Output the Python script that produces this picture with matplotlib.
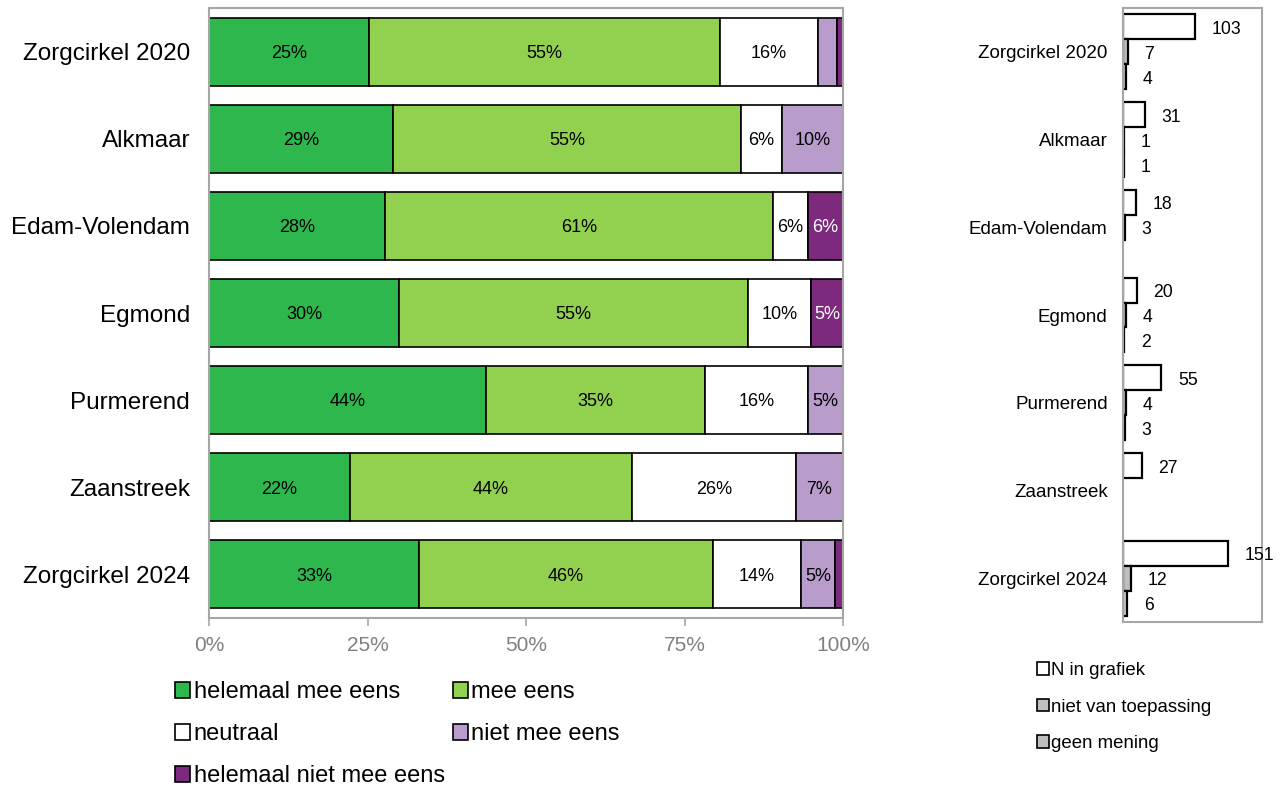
import numpy as np
import matplotlib
matplotlib.use('Agg')
import matplotlib.pyplot as plt
from matplotlib.patches import Patch

plt.rcParams['font.family'] = ['Liberation Sans', 'DejaVu Sans']

# data
categories = ['Zorgcirkel 2020', 'Alkmaar', 'Edam-Volendam', 'Egmond',
              'Purmerend', 'Zaanstreek', 'Zorgcirkel 2024']
helemaal_mee_eens = [25.24, 29.03, 27.78, 30.00, 43.64, 22.22, 33.11]
mee_eens = [55.34, 54.84, 61.11, 55.00, 34.55, 44.44, 46.36]
neutraal = [15.53, 6.45, 5.56, 10.00, 16.36, 25.93, 13.91]
niet_mee_eens = [2.91, 9.68, 0, 0, 5.45, 7.41, 5.30]
helemaal_niet_mee_eens = [0.97, 0, 5.56, 5.00, 0, 0, 1.32]

n_in_grafiek = [103, 31, 18, 20, 55, 27, 151]
niet_van_toepassing = [7, 1, 3, 4, 4, 0, 12]
geen_mening = [4, 1, 0, 2, 3, 0, 6]

series = [helemaal_mee_eens, mee_eens, neutraal, niet_mee_eens, helemaal_niet_mee_eens]
series_names = ['helemaal mee eens', 'mee eens', 'neutraal', 'niet mee eens',
                'helemaal niet mee eens']
colors = ['#2DB74C', '#92D050', '#FFFFFF', '#B89CCB', '#7D2A7E']
text_colors = ['black', 'black', 'black', 'black', 'white']

grey = '#A6A6A6'

fig = plt.figure(figsize=(12.82, 7.91), dpi=100)

# linker paneel: gestapelde balken
ax = fig.add_axes([209 / 1282, 1 - 618 / 791, 634 / 1282, 610 / 791])
y = np.arange(len(categories))
left = np.zeros(len(categories))
for vals, col, tc in zip(series, colors, text_colors):
    vals = np.array(vals)
    ax.barh(y, vals, left=left, height=0.78, color=col, edgecolor='black', linewidth=1.2)
    for yi, (l, v) in enumerate(zip(left, vals)):
        if v >= 4:
            ax.text(l + v / 2, yi + 0.02, f'{v:.0f}%', ha='center', va='center',
                    fontsize=13, color=tc)
    left += vals

ax.set_xlim(0, 100)
ax.set_ylim(len(categories) - 0.5, -0.5)
ax.set_xticks([0, 25, 50, 75, 100])
ax.set_xticklabels(['0%', '25%', '50%', '75%', '100%'], fontsize=15, color='#808080')
ax.set_yticks(y)
ax.set_yticklabels(categories, fontsize=17.5)
ax.tick_params(axis='y', length=0, pad=13.5)
ax.tick_params(axis='x', length=6, width=1.2, color=grey, pad=7, direction='out')
for s in ax.spines.values():
    s.set_color(grey)
    s.set_linewidth(1.5)

handles = [Patch(facecolor=c, edgecolor='black', linewidth=1.2, label=n)
           for c, n in zip(colors, series_names)]
order = [0, 2, 4, 1, 3]
fig.legend([handles[i] for i in order], [series_names[i] for i in order],
           loc='upper left', bbox_to_anchor=(175 / 1282, 1 - 681 / 791), ncol=2,
           frameon=False, fontsize=17, handlelength=0.65, handleheight=0.65,
           handletextpad=0.15, columnspacing=0.32, labelspacing=0.85,
           borderaxespad=0, borderpad=0)

# rechter paneel: aantallen
ax2 = fig.add_axes([1123 / 1282, 1 - 622 / 791, 139 / 1282, 614 / 791])
bh = 0.285
r_series = [n_in_grafiek, niet_van_toepassing, geen_mening]
r_names = ['N in grafiek', 'niet van toepassing', 'geen mening']
r_colors = ['#FFFFFF', '#BFBFBF', '#D0D0D0']
offsets = [-bh, 0, bh]
for vals, col, off in zip(r_series, r_colors, offsets):
    for yi, v in enumerate(vals):
        if v > 0:
            ax2.barh(yi + off, v, height=bh, color=col, edgecolor='black', linewidth=1.6)
            ax2.annotate(str(v), (v, yi + off + 0.03), xytext=(12, 0),
                         textcoords='offset points', va='center', ha='left',
                         fontsize=12.7, annotation_clip=False)
ax2.set_xlim(0, 200)
ax2.set_ylim(len(categories) - 0.5, -0.5)
ax2.set_xticks([])
ax2.set_yticks(y)
ax2.set_yticklabels(categories, fontsize=13.5)
ax2.tick_params(axis='y', length=0, pad=11)
for s in ax2.spines.values():
    s.set_color(grey)
    s.set_linewidth(1.5)

r_handles = [Patch(facecolor=c, edgecolor='black', linewidth=1.2, label=n)
             for c, n in zip(['#FFFFFF', '#BFBFBF', '#BFBFBF'], r_names)]
fig.legend(r_handles, r_names, loc='upper left', bbox_to_anchor=(1037 / 1282, 1 - 662 / 791),
           frameon=False, fontsize=13.4, handlelength=0.65, handleheight=0.65,
           handletextpad=0.1, labelspacing=1.05, borderaxespad=0, borderpad=0)

fig.savefig('out.png', dpi=100, facecolor='white')
